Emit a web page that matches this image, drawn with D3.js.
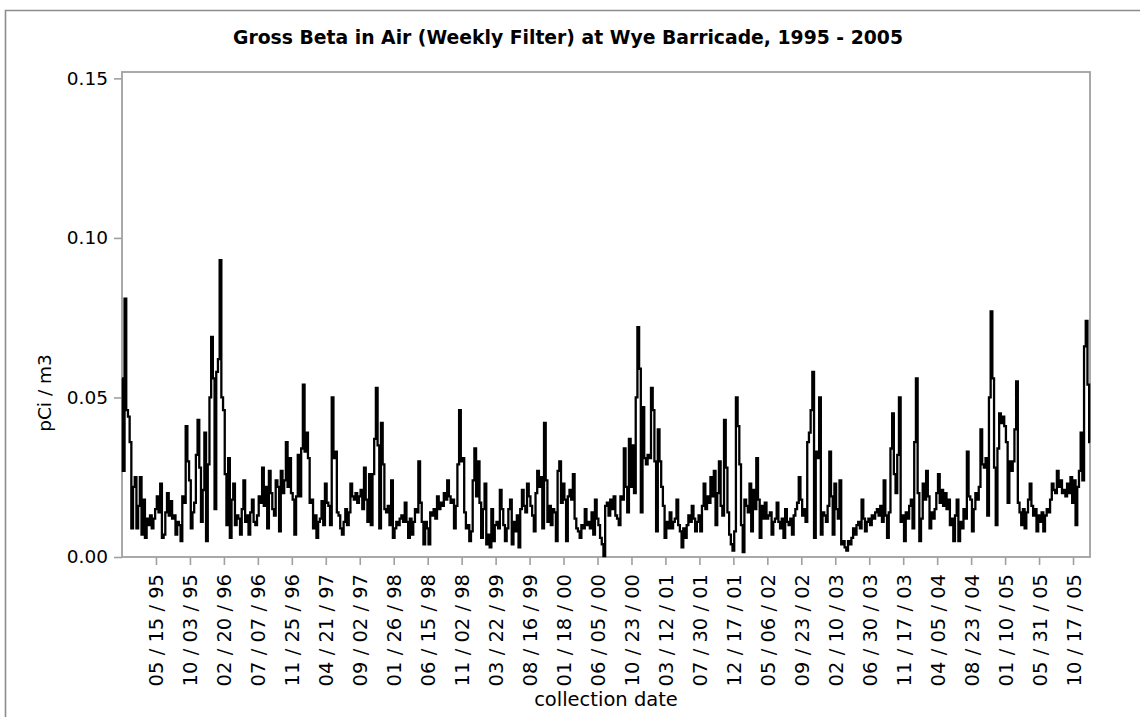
<!DOCTYPE html>
<html>
<head>
<meta charset="utf-8">
<script src="https://cdn.jsdelivr.net/npm/d3@7"></script>
<style>
  html, body { margin: 0; padding: 0; background: #fff; }
  svg { display: block; }
  text { font-family: "DejaVu Sans", sans-serif; fill: #000; }
</style>
</head>
<body>
<svg id="chart" width="1140" height="717"></svg>
<script>
// Weekly gross beta activity (pCi/m3), one value per weekly filter, 1995 - 2005
const grossBeta = [
  0.056, 0.027, 0.081, 0.046, 0.044, 0.036, 0.009, 0.022, 0.025, 0.009,
  0.016, 0.025, 0.007, 0.018, 0.006, 0.012, 0.010, 0.013, 0.009, 0.012,
  0.015, 0.019, 0.014, 0.023, 0.006, 0.007, 0.014, 0.020, 0.013, 0.0175,
  0.012, 0.013, 0.007, 0.011, 0.010, 0.005, 0.019, 0.017, 0.041, 0.030,
  0.024, 0.009, 0.014, 0.017, 0.032, 0.043, 0.028, 0.011, 0.021, 0.039,
  0.005, 0.029, 0.050, 0.069, 0.056, 0.015, 0.058, 0.062, 0.093, 0.050,
  0.046, 0.026, 0.010, 0.031, 0.006, 0.018, 0.023, 0.010, 0.013, 0.012,
  0.007, 0.015, 0.024, 0.011, 0.013, 0.007, 0.014, 0.018, 0.011, 0.010,
  0.013, 0.019, 0.017, 0.028, 0.016, 0.022, 0.009, 0.027, 0.020, 0.015,
  0.013, 0.024, 0.022, 0.008, 0.027, 0.020, 0.024, 0.036, 0.022, 0.031,
  0.020, 0.018, 0.007, 0.019, 0.032, 0.019, 0.034, 0.054, 0.033, 0.039,
  0.031, 0.017, 0.018, 0.009, 0.013, 0.006, 0.011, 0.012, 0.0175, 0.010,
  0.023, 0.017, 0.016, 0.010, 0.050, 0.031, 0.033, 0.014, 0.013, 0.009,
  0.007, 0.011, 0.015, 0.010, 0.014, 0.023, 0.019, 0.018, 0.020, 0.017,
  0.019, 0.021, 0.015, 0.028, 0.018, 0.011, 0.026, 0.010, 0.026, 0.037,
  0.053, 0.035, 0.009, 0.042, 0.029, 0.015, 0.014, 0.016, 0.010, 0.024,
  0.006, 0.009, 0.011, 0.010, 0.012, 0.013, 0.011, 0.017, 0.011, 0.006,
  0.012, 0.007, 0.011, 0.015, 0.014, 0.030, 0.017, 0.011, 0.004, 0.011,
  0.009, 0.004, 0.014, 0.013, 0.015, 0.012, 0.019, 0.015, 0.017, 0.016,
  0.020, 0.018, 0.024, 0.019, 0.017, 0.018, 0.009, 0.016, 0.029, 0.046,
  0.030, 0.031, 0.014, 0.009, 0.010, 0.005, 0.008, 0.024, 0.034, 0.019,
  0.030, 0.017, 0.006, 0.015, 0.023, 0.004, 0.007, 0.003, 0.015, 0.005,
  0.010, 0.011, 0.009, 0.021, 0.015, 0.010, 0.005, 0.009, 0.015, 0.018,
  0.004, 0.011, 0.008, 0.013, 0.003, 0.015, 0.021, 0.016, 0.014, 0.023,
  0.019, 0.016, 0.013, 0.008, 0.020, 0.027, 0.022, 0.025, 0.009, 0.042,
  0.024, 0.011, 0.016, 0.010, 0.015, 0.014, 0.005, 0.027, 0.030, 0.017,
  0.023, 0.018, 0.005, 0.019, 0.021, 0.018, 0.026, 0.012, 0.009, 0.008,
  0.006, 0.010, 0.009, 0.015, 0.010, 0.011, 0.009, 0.014, 0.007, 0.018,
  0.012, 0.010, 0.006, 0.004, 0.0003, 0.016, 0.017, 0.013, 0.018, 0.015,
  0.019, 0.013, 0.012, 0.010, 0.019, 0.018, 0.034, 0.022, 0.014, 0.037,
  0.022, 0.035, 0.020, 0.050, 0.072, 0.059, 0.014, 0.047, 0.031, 0.029,
  0.032, 0.031, 0.053, 0.046, 0.030, 0.008, 0.040, 0.030, 0.022, 0.016,
  0.006, 0.011, 0.009, 0.014, 0.009, 0.011, 0.012, 0.018, 0.010, 0.008,
  0.003, 0.009, 0.006, 0.010, 0.013, 0.011, 0.016, 0.012, 0.008, 0.011,
  0.013, 0.008, 0.016, 0.023, 0.015, 0.019, 0.017, 0.025, 0.019, 0.027,
  0.010, 0.020, 0.030, 0.016, 0.013, 0.043, 0.028, 0.014, 0.007, 0.004,
  0.002, 0.008, 0.050, 0.041, 0.029, 0.010, 0.0015, 0.018, 0.016, 0.014,
  0.023, 0.008, 0.021, 0.015, 0.031, 0.018, 0.006, 0.016, 0.012, 0.017,
  0.012, 0.013, 0.014, 0.007, 0.011, 0.012, 0.017, 0.011, 0.009, 0.012,
  0.006, 0.015, 0.011, 0.010, 0.012, 0.007, 0.013, 0.015, 0.017, 0.025,
  0.018, 0.013, 0.015, 0.011, 0.036, 0.039, 0.046, 0.058, 0.006, 0.033,
  0.031, 0.050, 0.007, 0.014, 0.013, 0.011, 0.016, 0.033, 0.019, 0.007,
  0.023, 0.015, 0.012, 0.024, 0.004, 0.005, 0.003, 0.002, 0.005, 0.004,
  0.006, 0.009, 0.007, 0.010, 0.011, 0.009, 0.018, 0.012, 0.008, 0.011,
  0.012, 0.010, 0.013, 0.012, 0.014, 0.015, 0.013, 0.016, 0.011, 0.024,
  0.013, 0.006, 0.014, 0.034, 0.045, 0.026, 0.020, 0.032, 0.050, 0.011,
  0.013, 0.005, 0.014, 0.012, 0.016, 0.018, 0.009, 0.036, 0.056, 0.020,
  0.005, 0.012, 0.023, 0.018, 0.027, 0.019, 0.009, 0.014, 0.012, 0.015,
  0.020, 0.026, 0.017, 0.021, 0.016, 0.020, 0.015, 0.018, 0.010, 0.012,
  0.005, 0.013, 0.018, 0.005, 0.011, 0.009, 0.015, 0.012, 0.033, 0.019,
  0.018, 0.008, 0.015, 0.020, 0.018, 0.022, 0.040, 0.029, 0.028, 0.031,
  0.013, 0.050, 0.077, 0.056, 0.028, 0.010, 0.034, 0.045, 0.042, 0.044,
  0.041, 0.036, 0.017, 0.030, 0.027, 0.030, 0.040, 0.055, 0.017, 0.014,
  0.010, 0.015, 0.009, 0.014, 0.018, 0.023, 0.016, 0.013, 0.015, 0.008,
  0.013, 0.011, 0.014, 0.008, 0.013, 0.015, 0.014, 0.018, 0.023, 0.021,
  0.020, 0.027, 0.022, 0.024, 0.020, 0.021, 0.019, 0.023, 0.020, 0.025,
  0.017, 0.024, 0.010, 0.022, 0.027, 0.039, 0.024, 0.066, 0.074, 0.054, 0.036
];

// Collection dates labelled on the x axis, one every 20 weekly samples
const dateLabels = [
  "05 / 15 / 95", "10 / 03 / 95", "02 / 20 / 96", "07 / 07 / 96", "11 / 25 / 96",
  "04 / 21 / 97", "09 / 02 / 97", "01 / 26 / 98", "06 / 15 / 98", "11 / 02 / 98",
  "03 / 22 / 99", "08 / 16 / 99", "01 / 18 / 00", "06 / 05 / 00", "10 / 23 / 00",
  "03 / 12 / 01", "07 / 30 / 01", "12 / 17 / 01", "05 / 06 / 02", "09 / 23 / 02",
  "02 / 10 / 03", "06 / 30 / 03", "11 / 17 / 03", "04 / 05 / 04", "08 / 23 / 04",
  "01 / 10 / 05", "05 / 31 / 05", "10 / 17 / 05"
];
const labelEvery = 20;

const yTicks = [0, 0.05, 0.10, 0.15];
const yMax = 0.152;

const titleText = "Gross Beta in Air (Weekly Filter) at Wye Barricade, 1995 - 2005";
const xTitle = "collection date";
const yTitle = "pCi / m3";

// ---- layout ----
const plot = { left: 122, right: 1090, top: 72, bottom: 557 };
const frameColor = "#a0a0a0";

const svg = d3.select("#chart");

// outer panel border (open to the right and bottom)
svg.append("path")
  .attr("d", "M5.5,730 L5.5,10.5 L1160,10.5")
  .attr("fill", "none")
  .attr("stroke", "#8c8c8c")
  .attr("stroke-width", 1.6);

const x = d3.scaleLinear()
  .domain([0, grossBeta.length - 1])
  .range([plot.left, plot.right]);

const y = d3.scaleLinear()
  .domain([0, yMax])
  .range([plot.bottom, plot.top]);

// y axis
const yAxis = svg.append("g")
  .attr("transform", `translate(${plot.left},0)`)
  .call(d3.axisLeft(y)
    .tickValues(yTicks)
    .tickFormat(d3.format(".2f"))
    .tickSize(8)
    .tickPadding(6));
yAxis.select(".domain").remove();
yAxis.selectAll(".tick line").attr("stroke", frameColor).attr("stroke-width", 1.6);
yAxis.selectAll(".tick text")
  .attr("font-size", 18.5)
  .attr("font-family", "DejaVu Sans, sans-serif")
  .attr("fill", "#000");

// x axis: ticks at every 20th sample
const tickIdx = dateLabels.map((_, k) => (k + 1) * labelEvery);
const xAxis = svg.append("g")
  .attr("transform", `translate(0,${plot.bottom})`)
  .call(d3.axisBottom(x)
    .tickValues(tickIdx)
    .tickFormat((d, k) => dateLabels[k])
    .tickSize(8)
    .tickPadding(0));
xAxis.select(".domain").remove();
xAxis.selectAll(".tick line").attr("stroke", frameColor).attr("stroke-width", 1.6);
xAxis.selectAll(".tick text")
  .attr("font-size", 19.5)
  .attr("font-family", "DejaVu Sans, sans-serif")
  .attr("fill", "#000")
  .attr("text-anchor", "end")
  .attr("transform", "rotate(-90)")
  .attr("x", -17)
  .attr("y", 0)
  .attr("dy", "0.36em");

// plot frame
svg.append("rect")
  .attr("x", plot.left)
  .attr("y", plot.top)
  .attr("width", plot.right - plot.left)
  .attr("height", plot.bottom - plot.top)
  .attr("fill", "none")
  .attr("stroke", frameColor)
  .attr("stroke-width", 1.8);

// data line, drawn as steps so each weekly value holds until the next filter
const line = d3.line()
  .curve(d3.curveStep)
  .x((d, i) => x(i))
  .y(d => y(d));

svg.append("path")
  .datum(grossBeta)
  .attr("d", line)
  .attr("fill", "none")
  .attr("stroke", "#000")
  .attr("stroke-width", 2.3)
  .attr("stroke-linejoin", "miter");

// titles
svg.append("text")
  .attr("x", 568)
  .attr("y", 44)
  .attr("text-anchor", "middle")
  .attr("font-size", 18.8)
  .attr("font-weight", "bold")
  .text(titleText);

svg.append("text")
  .attr("x", (plot.left + plot.right) / 2)
  .attr("y", 706)
  .attr("text-anchor", "middle")
  .attr("font-size", 19.5)
  .text(xTitle);

svg.append("text")
  .attr("transform", "translate(51,393) rotate(-90)")
  .attr("text-anchor", "middle")
  .attr("font-size", 18.5)
  .text(yTitle);
</script>
</body>
</html>
